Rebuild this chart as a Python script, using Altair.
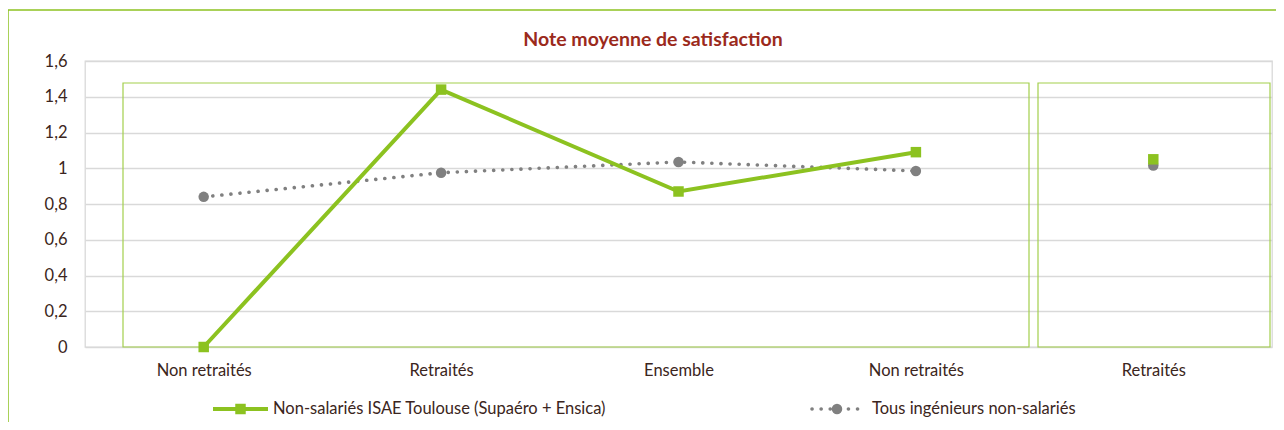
import json
import altair as alt
import pandas as pd

# ---- data ----
categories = ["Non retraités", "Retraités", "Ensemble", "Non retraités", "Retraités"]
segment = [1, 1, 1, 1, 2]  # last category is shown in a separate panel (not connected)
series_names = ["Non-salariés ISAE Toulouse (Supaéro + Ensica)", "Tous ingénieurs non-salariés"]
isae_values = [0.0, 1.44, 0.87, 1.09, 1.05]
tous_values = [0.84, 0.975, 1.035, 0.985, 1.015]
y_ticks = [0, 0.2, 0.4, 0.6, 0.8, 1.0, 1.2, 1.4, 1.6]
title_text = "Note moyenne de satisfaction"

GREEN = "#8cc220"
BOX_GREEN = "#a3cf4c"
GRAY = "#808080"
TEXT = "#3b2520"
TITLE = "#9b2a1c"
FONT = "Lato"
FS = 16.5

rows = []
for i, c in enumerate(categories):
    rows.append({"idx": i, "cat": c, "series": series_names[0], "value": isae_values[i], "seg": segment[i]})
    rows.append({"idx": i, "cat": c, "series": series_names[1], "value": tous_values[i], "seg": segment[i]})
df = pd.DataFrame(rows)
one = pd.DataFrame({"k": [0]})

label_expr = json.dumps(categories) + "[datum.value]"

x_enc = alt.X("idx:O", axis=alt.Axis(title=None, labelExpr=label_expr, labelAngle=0,
                                     ticks=False, domain=False, labelPadding=15,
                                     labelFontSize=FS, labelColor=TEXT, labelFont=FONT),
              scale=alt.Scale(paddingInner=0, paddingOuter=0))
y_enc = alt.Y("value:Q", scale=alt.Scale(domain=[0, 1.6], nice=False),
              axis=alt.Axis(title=None, values=y_ticks, labelExpr="replace(format(datum.value, '~g'), '.', ',')",
                            ticks=False, domain=False, labelPadding=18, labelFontSize=FS,
                            labelOverlap=False, labelColor=TEXT, labelFont=FONT,
                            gridColor="#d9d9d9", gridWidth=1.3))

base = alt.Chart(df)
f_isae = alt.datum.series == series_names[0]
f_tous = alt.datum.series == series_names[1]

# panel boxes
box1 = alt.Chart(one).mark_rect(fill=None, stroke=BOX_GREEN, strokeWidth=1.2).encode(
    x=alt.value(38), x2=alt.value(944), y=alt.value(22), y2=alt.value(286))
box2 = alt.Chart(one).mark_rect(fill=None, stroke=BOX_GREEN, strokeWidth=1.2).encode(
    x=alt.value(953), x2=alt.value(1185), y=alt.value(22), y2=alt.value(286))

tous_line = base.transform_filter(f_tous).mark_line(
    color=GRAY, strokeWidth=3.6, strokeDash=[0.1, 9], strokeCap="round").encode(
    x=x_enc, y=y_enc, detail="seg:N")
tous_pts = base.transform_filter(f_tous).mark_point(
    shape="circle", filled=True, color=GRAY, size=110, opacity=1).encode(x=x_enc, y=y_enc)

isae_line = base.transform_filter(f_isae).mark_line(
    color=GREEN, strokeWidth=4).encode(x=x_enc, y=y_enc, detail="seg:N")
isae_pts = base.transform_filter(f_isae).mark_point(
    shape="square", filled=True, color=GREEN, size=110, opacity=1).encode(x=x_enc, y=y_enc)

# title
title = alt.Chart(one).mark_text(text=title_text, font=FONT, fontSize=19.5, fontWeight="bold",
                                 color=TITLE, align="center", baseline="middle").encode(
    x=alt.value(568), y=alt.value(-21))

# outer frame (top and left lines)
frame_top = alt.Chart(one).mark_rule(color=GREEN, strokeWidth=1.5).encode(
    x=alt.value(-77), x2=alt.value(1199), y=alt.value(-51))
frame_left = alt.Chart(one).mark_rule(color=GREEN, strokeWidth=1.5).encode(
    x=alt.value(-77), y=alt.value(-51), y2=alt.value(370))

# legend
LY = 348
leg1_line = alt.Chart(one).mark_rule(color=GREEN, strokeWidth=4).encode(
    x=alt.value(128), x2=alt.value(183), y=alt.value(LY))
leg1_pt = alt.Chart(one).mark_point(shape="square", filled=True, color=GREEN, size=110, opacity=1).encode(
    x=alt.value(155.5), y=alt.value(LY))
leg1_txt = alt.Chart(one).mark_text(text=series_names[0], font=FONT, fontSize=FS, color=TEXT,
                                    align="left", baseline="middle").encode(x=alt.value(188), y=alt.value(LY))
leg2_line = alt.Chart(one).mark_rule(color=GRAY, strokeWidth=3.6, strokeDash=[0.1, 9], strokeCap="round").encode(
    x=alt.value(727), x2=alt.value(778), y=alt.value(LY))
leg2_pt = alt.Chart(one).mark_point(shape="circle", filled=True, color=GRAY, size=110, opacity=1).encode(
    x=alt.value(752), y=alt.value(LY))
leg2_txt = alt.Chart(one).mark_text(text=series_names[1], font=FONT, fontSize=FS, color=TEXT,
                                    align="left", baseline="middle").encode(x=alt.value(787), y=alt.value(LY))

chart = alt.layer(
    box1, box2, tous_line, tous_pts, isae_line, isae_pts, title,
    frame_top, frame_left, leg1_line, leg1_pt, leg1_txt, leg2_line, leg2_pt, leg2_txt
).properties(
    width=1187, height=286,
    autosize=alt.AutoSizeParams(type="none"),
    padding={"left": 77, "top": 53, "right": 4, "bottom": 75},
).configure_view(stroke="#d9d9d9", strokeWidth=1.3)

chart.save("out.html", embed_options={"renderer": "svg", "actions": False})
